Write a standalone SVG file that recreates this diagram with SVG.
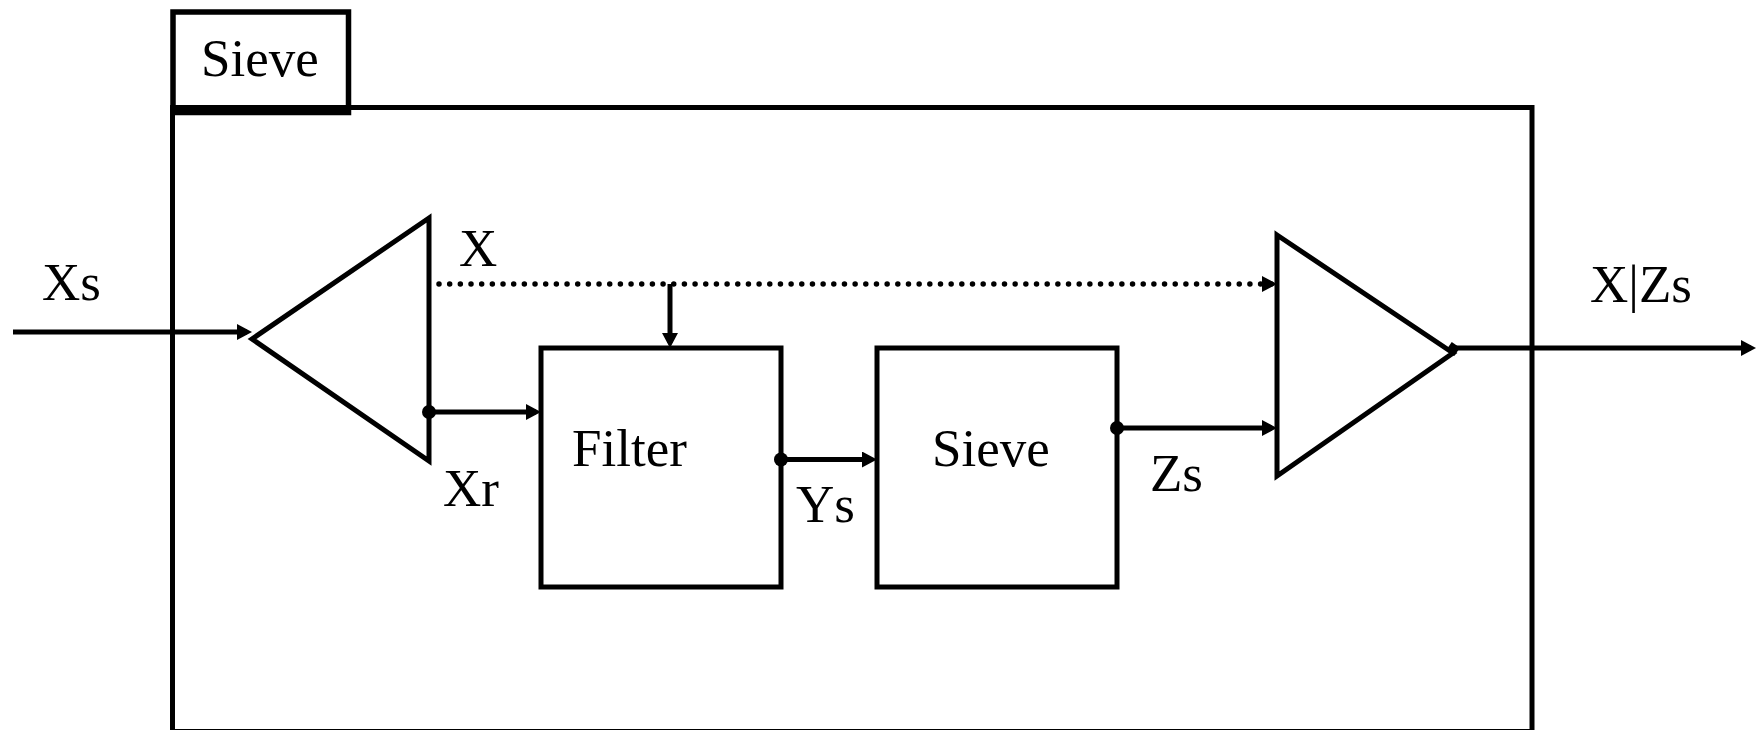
<svg xmlns="http://www.w3.org/2000/svg" width="1756" height="730" viewBox="0 0 1756 730">
<style>
.s{fill:none;stroke:#000;stroke-width:5}
.t{font-family:"Liberation Serif","Times New Roman",serif;font-size:53px;fill:#000}
.dot{fill:#000}
</style>
<defs>
<marker id="ah" markerWidth="17" markerHeight="17" refX="10" refY="8" orient="auto" markerUnits="userSpaceOnUse">
<path d="M0,0 L15,8 L0,16 z" fill="#000"/>
</marker>
</defs>
<rect width="1756" height="730" fill="#fff"/>
<g id="outer">
<rect class="s" x="172.5" y="107.5" width="1359.5" height="624"/>
</g>
<g id="outer-label">
<rect class="s" x="173" y="12" width="175.5" height="100.5" style="stroke-width:5.5"/>
<text class="t" x="201" y="76">Sieve</text>
</g>
<g id="split">
<path class="s" d="M429,218 L252,339 L429,461 Z"/>
</g>
<g id="filter">
<rect class="s" x="541" y="348" width="240" height="239"/>
<text class="t" x="572" y="466">Filter</text>
</g>
<g id="sieve">
<rect class="s" x="877" y="348" width="240" height="239"/>
<text class="t" x="932" y="466">Sieve</text>
</g>
<g id="merge">
<path class="s" d="M1277,235 L1453,353 L1277,476 Z"/>
</g>
<g id="connectors">
<path class="s" d="M13,332 L247,332" marker-end="url(#ah)"/>
<path class="s" d="M429,412 L536,412" marker-end="url(#ah)"/>
<circle class="dot" cx="429" cy="412" r="7"/>
<path class="s" d="M439,284 L1272,284" style="stroke-dasharray:0 10.67;stroke-linecap:round;stroke-width:5.5" marker-end="url(#ah)"/>
<path class="s" d="M670,284 L670,343" marker-end="url(#ah)"/>
<path class="s" d="M781,459.5 L872,459.5" marker-end="url(#ah)"/>
<circle class="dot" cx="781" cy="459.5" r="7"/>
<path class="s" d="M1117,428 L1272,428" marker-end="url(#ah)"/>
<circle class="dot" cx="1117" cy="428" r="7"/>
<path class="s" d="M1452,348 L1751,348" marker-end="url(#ah)"/>
<rect class="dot" x="-5" y="-5" width="10" height="10" transform="translate(1453,349) rotate(35)"/>
</g>
<g id="labels">
<text class="t" x="42" y="300">Xs</text>
<text class="t" x="459" y="266">X</text>
<text class="t" x="443" y="506">Xr</text>
<text class="t" x="796" y="522">Ys</text>
<text class="t" x="1150" y="491">Zs</text>
<text class="t" x="1590" y="302">X|Zs</text>
</g>
</svg>
